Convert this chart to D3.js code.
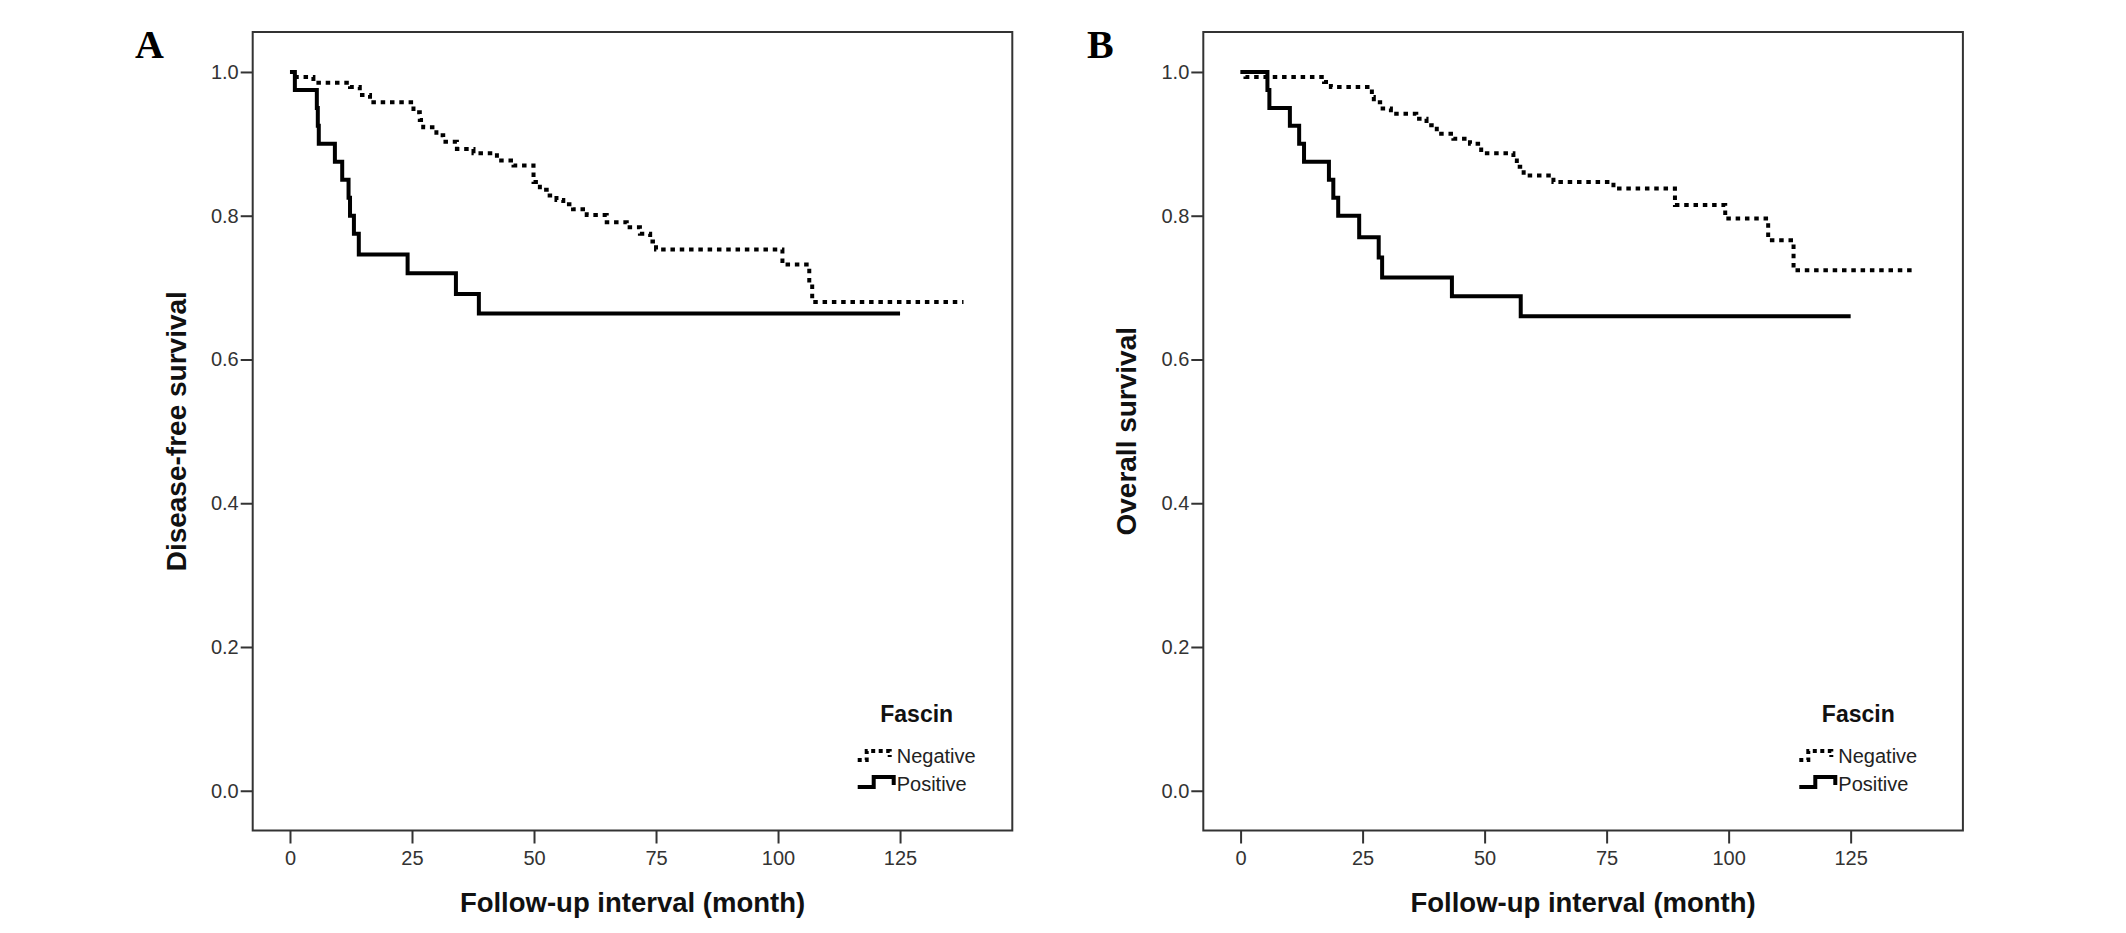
<!DOCTYPE html>
<html>
<head>
<meta charset="utf-8">
<script src="https://cdn.jsdelivr.net/npm/d3@7"></script>
<style>
  html, body { margin: 0; padding: 0; background: #fff; }
  svg { display: block; }
  .tick text { font-family: "Liberation Sans", Arial, sans-serif; font-size: 20px; fill: #333; }
  .tick line { stroke: #333; stroke-width: 2; }
</style>
</head>
<body>
<svg id="chart" width="2126" height="933"></svg>
<script>
// ---------- DATA ----------
const xTicks = [0, 25, 50, 75, 100, 125];
const yTicks = [0.0, 0.2, 0.4, 0.6, 0.8, 1.0];
const groups = ["Negative", "Positive"];
const panelLetters = ["A", "B"];
const yTitles = ["Disease-free survival", "Overall survival"];
const xTitle = "Follow-up interval (month)";
const legendTitle = "Fascin";

// Panel A – disease-free survival
const dfsNegTime = [0, 1.2, 4.8, 12.3, 14.3, 16.4, 25.3, 26.6, 27.3, 30, 31.4, 34.2, 37.6, 42.4, 45.8, 49.9, 51.2, 52.6, 54.6, 56, 58, 60.8, 64.9, 69, 71.7, 73.8, 75, 100.9, 106.4, 107.0, 138];
const dfsNegSurv = [1, 0.993, 0.985, 0.979, 0.968, 0.958, 0.944, 0.933, 0.923, 0.912, 0.903, 0.893, 0.887, 0.877, 0.870, 0.847, 0.836, 0.828, 0.822, 0.816, 0.809, 0.801, 0.791, 0.784, 0.775, 0.764, 0.753, 0.732, 0.706, 0.680, 0.680];
const dfsPosTime = [0, 1, 5.5, 5.7, 5.9, 9.2, 10.7, 12.0, 12.3, 13.1, 14.1, 24.1, 34, 38.7, 125];
const dfsPosSurv = [1, 0.975, 0.95, 0.925, 0.9, 0.875, 0.85, 0.825, 0.8, 0.775, 0.746, 0.72, 0.691, 0.664, 0.664];

// Panel B – overall survival
const osNegTime = [0, 1, 17.1, 18.5, 26.9, 27.3, 28.6, 30.8, 36, 38.1, 40.2, 43.6, 47, 49.3, 55.9, 56.6, 58, 64.1, 76.4, 89, 99.3, 108.1, 113.3, 138.2];
const osNegSurv = [1, 0.993, 0.986, 0.979, 0.965, 0.958, 0.949, 0.942, 0.935, 0.926, 0.914, 0.907, 0.900, 0.887, 0.877, 0.868, 0.856, 0.847, 0.838, 0.815, 0.796, 0.766, 0.724, 0.724];
const osPosTime = [0, 5.5, 5.9, 10.1, 12, 13, 18.1, 19, 20, 24.3, 28.3, 29, 43.3, 57.4, 125];
const osPosSurv = [1, 0.975, 0.95, 0.925, 0.9, 0.875, 0.85, 0.825, 0.8, 0.77, 0.742, 0.714, 0.688, 0.66, 0.66];

// ---------- LAYOUT ----------
const svg = d3.select("#chart");
const panels = [
  { left: 252.7, letterX: 135, legendDX: 0,
    series: [ {t: dfsNegTime, s: dfsNegSurv, dashed: true}, {t: dfsPosTime, s: dfsPosSurv, dashed: false} ] },
  { left: 1203.3, letterX: 1087, legendDX: -9,
    series: [ {t: osNegTime, s: osNegSurv, dashed: true}, {t: osPosTime, s: osPosSurv, dashed: false} ] }
];
const plotW = 759.6, plotTop = 32, plotBottom = 830.5;
const font = '"Liberation Sans", Arial, sans-serif';

panels.forEach((p, i) => {
  const x = d3.scaleLinear().domain([-7.64, 148.0]).range([p.left, p.left + plotW]);
  const y = d3.scaleLinear().domain([-0.0553, 1.0556]).range([plotBottom, plotTop]);
  const g = svg.append("g");

  // panel letter
  g.append("text").attr("x", p.letterX).attr("y", 58)
    .attr("font-family", '"Liberation Serif", "Times New Roman", serif')
    .attr("font-weight", "bold").attr("font-size", 40).attr("fill", "#000")
    .text(panelLetters[i]);

  // axes
  const yAxis = d3.axisLeft(y).tickValues(yTicks).tickSize(12).tickPadding(2).tickFormat(d3.format(".1f"));
  const gy = g.append("g").attr("transform", `translate(${p.left},0)`).call(yAxis);
  gy.select(".domain").remove();
  const xAxis = d3.axisBottom(x).tickValues(xTicks).tickSize(13).tickPadding(7);
  const gx = g.append("g").attr("transform", `translate(0,${plotBottom})`).call(xAxis);
  gx.select(".domain").remove();

  // frame
  g.append("rect").attr("x", p.left).attr("y", plotTop).attr("width", plotW).attr("height", plotBottom - plotTop)
    .attr("fill", "none").attr("stroke", "#333").attr("stroke-width", 2);

  // curves
  const line = d3.line().x(d => x(d[0])).y(d => y(d[1])).curve(d3.curveStepAfter);
  p.series.forEach(se => {
    const pts = se.t.map((t, k) => [t, se.s[k]]);
    g.append("path").attr("d", line(pts)).attr("fill", "none")
      .attr("stroke", "#000").attr("stroke-width", 4)
      .attr("stroke-dasharray", se.dashed ? "4.5,4.8" : null)
      .attr("stroke-linejoin", "miter");
  });

  // axis titles
  g.append("text").attr("x", p.left + plotW / 2).attr("y", 912).attr("text-anchor", "middle")
    .attr("font-family", font).attr("font-weight", "bold").attr("font-size", 27.5).attr("fill", "#111")
    .text(xTitle);
  g.append("text").attr("transform", `translate(${p.left - 67},${(plotTop + plotBottom) / 2}) rotate(-90)`)
    .attr("text-anchor", "middle")
    .attr("font-family", font).attr("font-weight", "bold").attr("font-size", 28).attr("fill", "#111")
    .text(yTitles[i]);

  // legend
  const lx = p.left + 604 + p.legendDX;
  const lg = g.append("g").attr("transform", `translate(${lx},0)`);
  lg.append("text").attr("x", 60).attr("y", 722).attr("text-anchor", "middle")
    .attr("font-family", font).attr("font-weight", "bold").attr("font-size", 23).attr("fill", "#111")
    .text(legendTitle);
  lg.append("path").attr("d", "M1,760 H10 V751 H33 V757").attr("fill", "none")
    .attr("stroke", "#000").attr("stroke-width", 4).attr("stroke-dasharray", "4,3.5");
  lg.append("path").attr("d", "M1,787 H17 V777 H37 V785").attr("fill", "none")
    .attr("stroke", "#000").attr("stroke-width", 4);
  groups.forEach((gName, k) => {
    lg.append("text").attr("x", 40).attr("y", 763 + k * 28)
      .attr("font-family", font).attr("font-size", 20).attr("fill", "#222")
      .text(gName);
  });
});
</script>
</body>
</html>
